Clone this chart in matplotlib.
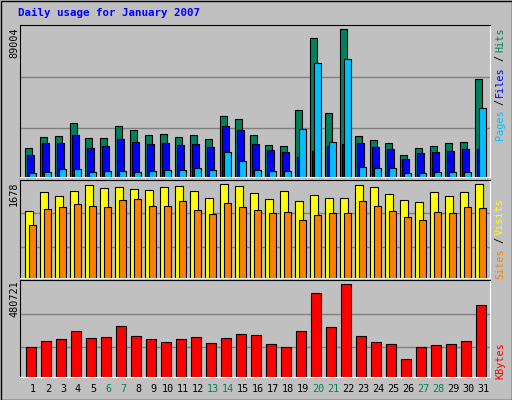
import matplotlib
matplotlib.use("Agg")
import matplotlib.pyplot as plt
import numpy as np

days = list(range(1, 32))
day_labels = [str(d) for d in days]
weekend = [6, 7, 13, 14, 20, 21, 27, 28]
hits = [17700, 24300, 25000, 32800, 23800, 23800, 31000, 28600, 25600, 26200, 24300, 25600, 23200, 37000, 35200, 25600,
        19500, 18900, 40700, 83600, 38300, 89004, 25000, 22600, 20700, 13500, 17700, 18900, 20700, 21300, 59400]
files = [13500, 20700, 20700, 25600, 17700, 18900, 23200, 21300, 20100, 20700, 19500, 20100, 18300, 31000, 28600, 20100,
         16500, 15300, 12300, 15900, 18900, 20100, 20700, 18300, 17100, 11100, 14700, 15300, 15900, 17100, 17100]
pages = [2600, 3200, 5000, 5000, 3200, 3800, 3800, 3200, 3800, 4400, 4400, 5600, 4400, 15300, 9900, 4400,
         3800, 3800, 29200, 68500, 21300, 70900, 6200, 5600, 5600, 2600, 2600, 3200, 3200, 3200, 41900]
sites = [1186, 1532, 1459, 1550, 1660, 1605, 1623, 1587, 1568, 1623, 1641, 1550, 1423, 1678, 1641, 1514,
         1404, 1550, 1368, 1477, 1423, 1423, 1660, 1623, 1496, 1386, 1350, 1532, 1459, 1532, 1678]
visits = [948, 1222, 1258, 1313, 1277, 1258, 1386, 1404, 1277, 1277, 1368, 1204, 1131, 1331, 1258, 1204,
          1149, 1167, 1040, 1113, 1149, 1149, 1368, 1277, 1186, 1094, 1040, 1167, 1149, 1258, 1240]
kbytes = [153200, 184900, 195500, 237700, 200800, 206000, 264100, 211300, 195500, 179600, 195500, 206000, 174300, 200800, 221800, 216600,
          169000, 153200, 237700, 433200, 258800, 480721, 211300, 179600, 169000, 95100, 153200, 163800, 169000, 184900, 369800]

BG = "#C0C0C0"
W, H = 512, 400
fig = plt.figure(figsize=(5.12, 4.0), dpi=100, facecolor=BG)
fig.patches.append(plt.Rectangle((0.5/W, 0.5/H), 1-1/W, 1-1/H, transform=fig.transFigure,
                                 fill=False, edgecolor="black", lw=1))

def ax_px(x0, y0, x1, y1):
    return fig.add_axes([x0/W, 1-y1/H, (x1-x0)/W, (y1-y0)/H])

x = np.array(days, dtype=float)
lw = 0.8

def setup(ax, top, grids):
    ax.set_facecolor(BG)
    ax.set_xlim(0.333, 31.667)
    ax.set_ylim(0, top)
    for g in grids:
        ax.axhline(g, color="#808080", lw=1, zorder=0)
    ax.set_xticks([]); ax.set_yticks([])
    for s in ["top", "left"]:
        ax.spines[s].set_color("black")
    for s in ["bottom", "right"]:
        ax.spines[s].set_color("white")

a1 = ax_px(20, 25, 490, 177)
m = max(hits)
setup(a1, m*1.03, [m*0.335, m*0.679])
a1.bar(x-0.333, hits, width=0.467, align="edge", color="#00805C", edgecolor="black", lw=lw)
a1.bar(x-0.2, files, width=0.467, align="edge", color="#0000FF", edgecolor="black", lw=lw)
a1.bar(x-0.067, pages, width=0.467, align="edge", color="#00C0FF", edgecolor="black", lw=lw)

a2 = ax_px(20, 180, 490, 278)
m = max(sites)
setup(a2, m*1.04, [m*0.326, m*0.685])
a2.bar(x-0.333, sites, width=0.533, align="edge", color="#FFFF00", edgecolor="black", lw=lw)
a2.bar(x-0.067, visits, width=0.467, align="edge", color="#FF8000", edgecolor="black", lw=lw)

a3 = ax_px(20, 280, 490, 377)
m = max(kbytes)
setup(a3, m*1.04, [m*0.319, m*0.68])
a3.bar(x-0.28, kbytes, width=0.667, align="edge", color="#FF0000", edgecolor="black", lw=lw)

mono = "DejaVu Sans Mono"
fig.text(18/W, 1-13/H, "Daily usage for January 2007", color="#0000FF", fontsize=7.8,
         fontweight="bold", family=mono, va="center", ha="left")

for d, lab in zip(days, day_labels):
    px = 20 + (d + 0.2 - 0.333) * 15
    fig.text(px/W, 1-389/H, lab, color="#00805C" if d in weekend else "black",
             fontsize=7.3, family=mono, ha="center", va="center")

fig.text(14/W, 1-27/H, str(max(hits)), rotation=90, fontsize=7.3, family=mono, ha="center", va="top")
fig.text(14/W, 1-181/H, str(max(sites)), rotation=90, fontsize=7.3, family=mono, ha="center", va="top")
fig.text(14/W, 1-280/H, str(max(kbytes)), rotation=90, fontsize=7.3, family=mono, ha="center", va="top")

def vlabel(pieces, ytop, step=5.45):
    total = sum(len(p[0]) for p in pieces)
    pos = 0
    for txt, col in pieces:
        s = txt.strip()
        lead = len(txt) - len(txt.lstrip())
        trail = len(txt) - len(txt.rstrip())
        after = total - pos - len(txt) + trail
        if s:
            fig.text(500/W, 1-(ytop + step*after)/H, s, rotation=90, color=col, fontsize=7.3,
                     family=mono, ha="center", va="top")
        pos += len(txt)

vlabel([("Pages", "#00C0FF"), (" / ", "black"), ("Files", "#0000FF"), (" / ", "black"), ("Hits", "#00805C")], 28)
vlabel([("Sites", "#FF8000"), (" / ", "black"), ("Visits", "#FFFF00")], 198, 5.6)
vlabel([("KBytes", "#FF0000")], 342, 5.6)

fig.savefig("out.png", dpi=100, facecolor=BG)
